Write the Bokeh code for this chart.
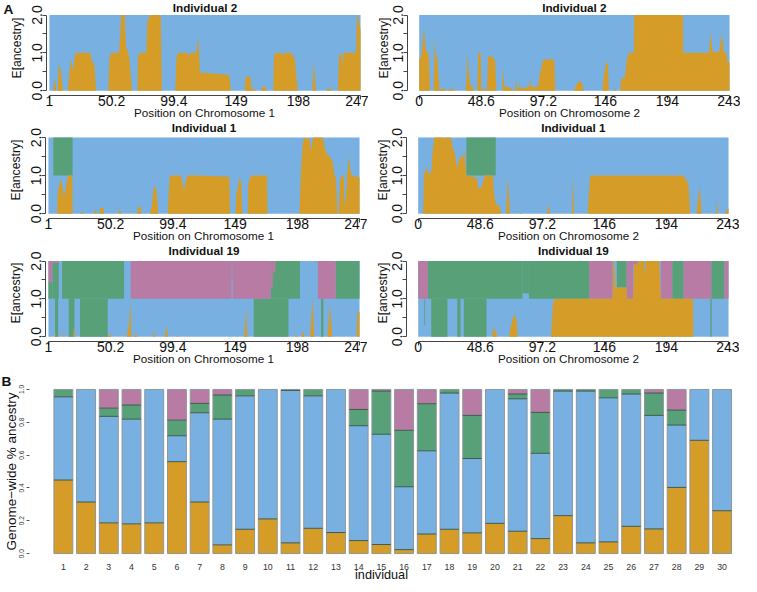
from bokeh.plotting import figure
from bokeh.layouts import column, row
from bokeh.models import (FixedTicker, PrintfTickFormatter, ColumnDataSource, LinearAxis, Title)
from bokeh.core.properties import value
from bokeh.embed import file_html
from bokeh.resources import INLINE

# ---------------- colours / constants ----------------
ORANGE = "#d59d27"
BLUE = "#78b0e2"
GREEN = "#58a077"
PINK = "#b87ba3"
FONT = "Liberation Sans"
TXT = "#111111"
PLOIDY = 2.0

# ---------------- data ----------------
chr1_ticks = [1, 50.2, 99.4, 148.6, 197.8, 247]
chr1_tick_labels = ["1", "50.2", "99.4", "149", "198", "247"]
chr2_ticks = [0, 48.6, 97.2, 145.8, 194.4, 243]
chr2_tick_labels = ["0", "48.6", "97.2", "146", "194", "243"]

# (position, E[orange ancestry]) breakpoints
ind2_chr1_orange = [(1, 0), (4, 0), (5.4, 0.33), (6.5, 0), (7.5, 0), (8.3, 0.7), (10, 0.55), (11.8, 0),
    (15.5, 0), (16.5, 0.4), (18, 0.85), (19.5, 0.5), (21, 0.9), (22, 1.0), (33, 1.0), (35, 0.75),
    (36.5, 0.7), (38, 0), (47.5, 0), (48.5, 0.9), (50.5, 1.0), (56, 1.0), (57, 1.5), (57.7, 2.0),
    (60.5, 2.0), (61.5, 1.2), (64, 0.9), (66.4, 0), (70.5, 0), (71, 0.9), (72.5, 1.0), (77.5, 1.0),
    (78.5, 1.85), (81, 2.0), (89, 2.0), (90, 0), (100.5, 0), (101.5, 0.9), (103, 1.0), (110, 1.0),
    (111, 0.93), (113, 1.0), (117, 1.0), (118.7, 1.4), (120, 0.48), (143, 0.42), (144.5, 0),
    (155.5, 0), (156, 0.35), (160, 0.38), (160.7, 0.05), (164, 0.03), (165, 0), (168.5, 0),
    (169, 0.1), (172, 0.1), (172.8, 0), (178, 0), (178.5, 0.9), (180, 1.0), (184, 1.0),
    (185.7, 0.93), (187, 1.0), (192, 1.0), (195, 0.85), (197.3, 0), (208.9, 0), (210, 0.75),
    (211, 0.3), (212, 0), (220, 0), (221, 0.05), (224, 0.05), (225, 0), (229, 0), (230, 0.95),
    (231.5, 1.0), (232.6, 0.7), (233.5, 1.0), (243.5, 1.0), (244.2, 2.0), (245.5, 1.9), (247, 1.6)]

ind2_chr2_orange = [(0, 0.85), (1.5, 0.9), (2.5, 1.2), (3.8, 1.65), (5, 1.1), (7.5, 0.95), (8.4, 0),
    (11.2, 0), (12.2, 1.4), (13, 0.95), (14, 0.9), (15.8, 0), (17, 0.05), (20, 0.05), (21, 0),
    (26, 0.05), (28.6, 0), (36.5, 0), (38, 1.0), (39, 0.4), (40.3, 0.1), (42, 0.1), (43, 0),
    (45.5, 0), (46.2, 1.0), (48.2, 1.0), (48.6, 0.05), (53, 0.02), (54, 0.92), (57, 0.9),
    (59.5, 0.8), (60.5, 0), (65, 0), (65.8, 0.6), (66.8, 0.1), (69, 0.1), (72.5, 0.05), (75, 0),
    (76, 0.3), (77, 0), (79, 0.15), (80, 0.05), (86, 0.1), (86.7, 0.3), (87.5, 0.1), (93, 0.1),
    (94.3, 0.4), (96.5, 0.75), (98, 0.85), (100, 0.8), (102, 0.85), (105.8, 0.8), (106.6, 0),
    (121, 0), (123, 0.15), (125, 0.25), (127.5, 0.2), (128.8, 0), (143.3, 0), (145, 0.5),
    (146.5, 0.75), (147.9, 0.7), (148.5, 0), (152, 0), (153, 0.05), (155, 0), (157.5, 0),
    (158, 0.3), (161, 0.35), (162.5, 0.8), (164, 1.0), (168, 1.0), (168.3, 2.0), (206.5, 2.0),
    (206.7, 1.0), (226.9, 1.0), (228.2, 1.55), (229.5, 1.05), (234.6, 1.0), (237.1, 1.5),
    (238.4, 1.0), (240.9, 1.0), (241.2, 0.75), (243, 0.75)]

ind1_chr1_orange = [(1, 0), (7.8, 0), (8.5, 0.6), (10.5, 0.85), (11.3, 0.9), (13.1, 0.45), (14.4, 0.6),
    (15.7, 0.9), (17, 1.0), (19.9, 1.0), (20.1, 0), (26, 0), (26.5, 0.02), (28.6, 0.02), (29, 0),
    (37.3, 0), (37.8, 0.1), (38.9, 0.1), (39.2, 0), (41.2, 0), (42, 0.15), (44.5, 0.15), (45, 0),
    (56.5, 0), (57.2, 0.15), (58.7, 0), (71, 0), (71.8, 0.18), (74, 0.18), (74.5, 0), (81.2, 0),
    (82.7, 0.2), (84.5, 0.75), (86.5, 0.6), (87.8, 0), (95.3, 0), (96.8, 0.95), (98.1, 1.0),
    (105.8, 1.0), (107, 0.8), (108.4, 0.6), (109.5, 0.85), (111, 1.0), (120, 1.0), (144, 0.97),
    (144.5, 0), (148.9, 0), (149.6, 0.5), (152.2, 0.97), (153.5, 0.8), (154.3, 0), (158.5, 0),
    (159, 0.8), (161.2, 1.0), (173.8, 1.0), (174.2, 0), (199.5, 0), (200.5, 1.0), (202, 1.8),
    (203, 2.0), (207.6, 1.95), (208.9, 1.65), (210.2, 2.0), (217.9, 2.0), (220.5, 1.6),
    (223.1, 1.5), (225.6, 1.4), (227, 1.05), (228.2, 0.95), (229.2, 0.3), (229.7, 0), (230.5, 0),
    (231.5, 0.9), (233.4, 1.0), (234.6, 1.0), (235.4, 0.25), (236.2, 0.3), (237.2, 1.0),
    (238.5, 1.5), (240, 1.1), (241.1, 1.0), (247, 0.95)]
# (start, end, lower, upper)
ind1_chr1_green = [(4.9, 20.1, 1.0, 2.0)]

ind1_chr2_orange = [(0, 0), (3.8, 0), (4.6, 1.05), (7.1, 1.2), (8.9, 1.0), (10.2, 1.1), (11.5, 1.7),
    (12.7, 2.0), (20, 2.0), (20.4, 1.95), (21, 2.0), (25.5, 2.0), (26.8, 1.75), (28.6, 1.6),
    (30.6, 1.2), (32.6, 1.5), (34.4, 1.45), (36.2, 1.65), (37.0, 1.3), (37.6, 1.0), (45.9, 0.95),
    (47.2, 0.65), (49.7, 0.7), (51, 0.9), (52.3, 1.0), (58.6, 1.0), (59.2, 0.6), (60.7, 0.25),
    (63.7, 0.2), (65, 0), (68.8, 0), (70.1, 0.95), (71.9, 0), (79, 0), (80, 0.03), (81.6, 0),
    (100.7, 0), (102, 0.25), (103.3, 0), (120.3, 0), (120.9, 1.0), (121.9, 0), (132.6, 0),
    (134.6, 1.0), (207.8, 1.0), (210.4, 0.85), (211.6, 0.8), (212.9, 0), (218, 0), (218.5, 0.25),
    (220.6, 0.7), (221.8, 0), (233.3, 0), (233.8, 0.4), (234.6, 0), (239.7, 0), (243, 0.15)]
ind1_chr2_green = [(37.7, 60.7, 1.0, 2.0)]

ind19_chr1_orange = [(1, 0), (5.8, 0), (6.2, 0.1), (6.8, 0), (12.8, 0), (13.1, 0.15), (13.6, 0),
    (20.5, 0), (21.2, 0.3), (22, 0), (47.9, 0), (48.5, 0.05), (50.5, 0.05), (51, 0), (63, 0),
    (64.6, 0.3), (65.9, 0.95), (66.5, 0), (68.5, 0), (69, 0.05), (71, 0.05), (71.5, 0), (83.5, 0),
    (84.2, 0.15), (85.2, 0), (93, 0), (94.3, 0.3), (95.5, 0), (102, 0), (102.5, 0.03), (104.6, 0),
    (155.8, 0), (157.4, 0.75), (158.2, 0), (196, 0), (196.5, 0.05), (198.6, 0), (201, 0),
    (202.3, 0.15), (203.7, 0), (208, 0), (209.7, 1.0), (211.2, 0), (221.6, 0), (223.6, 0.85),
    (225.4, 0), (244.5, 0), (245.5, 0.65), (247, 0.65)]
ind19_chr1_green = [(1, 4.1, 1.0, 1.45), (4.1, 9.2, 1.0, 1.95), (6.2, 8.7, 0.0, 1.0),
    (11.8, 60.8, 1.0, 2.0), (17.0, 21.6, 0.0, 1.0), (26.0, 47.9, 0.0, 1.0), (163.3, 190.8, 0.0, 1.0),
    (176.7, 199.9, 1.0, 2.0), (216.6, 218.4, 0.0, 1.0), (228.2, 247, 1.0, 2.0)]
ind19_chr1_pink = [(1, 4.1, 1.45, 2.0), (4.1, 9.2, 1.95, 2.0), (66.0, 145.8, 1.0, 2.0),
    (145.8, 146.6, 1.5, 2.0), (146.6, 176.7, 1.0, 2.0), (176.7, 178.5, 1.3, 2.0),
    (178.5, 180.5, 1.7, 2.0), (214.0, 228.2, 1.0, 2.0)]

ind19_chr2_orange = [(0, 0), (58, 0), (58.6, 0.25), (61.2, 0.1), (62, 0), (71, 0), (73, 0.35),
    (75.2, 0.6), (77, 0.45), (77.8, 0), (104, 0), (105.5, 0.9), (107.1, 1.0), (152.2, 1.0),
    (152.6, 1.95), (153.5, 2.0), (154.5, 1.3), (163.2, 1.3), (163.4, 1.0), (168.3, 1.0),
    (169, 1.9), (172.1, 1.95), (173.4, 2.0), (177, 2.0), (177.7, 1.6), (178.3, 2.0), (188.7, 2.0),
    (190, 1.0), (215, 1.0), (215.4, 0), (243, 0)]
ind19_chr2_green = [(4.8, 5.4, 0.3, 1.0), (7.6, 81.6, 1.0, 2.0), (81.6, 86.7, 1.15, 2.0),
    (86.7, 133.9, 1.0, 2.0), (10.2, 22.9, 0.0, 1.0), (30.6, 33.1, 0.0, 1.0), (35.7, 53.5, 0.0, 1.0),
    (155.5, 163.2, 1.3, 2.0), (198.9, 207.8, 1.0, 2.0), (228.8, 229.8, 0.0, 1.0),
    (229.5, 239.7, 1.0, 2.0)]
ind19_chr2_pink = [(0, 7.6, 1.0, 2.0), (133.9, 152.2, 1.0, 2.0), (163.2, 168.3, 1.0, 2.0),
    (168.3, 172.1, 1.9, 2.0), (190, 198.9, 1.0, 2.0), (207.8, 229.5, 1.0, 2.0), (239.7, 243, 1.0, 2.0)]

# Panel B: genome-wide ancestry proportions per individual
individual_ids = list(range(1, 31))
gw_orange = [0.448, 0.314, 0.187, 0.181, 0.187, 0.560, 0.314, 0.053, 0.148, 0.211,
             0.065, 0.154, 0.128, 0.079, 0.055, 0.024, 0.119, 0.148, 0.126, 0.184,
             0.136, 0.091, 0.231, 0.065, 0.071, 0.166, 0.150, 0.403, 0.690, 0.261]
gw_green = [0.045, 0.0, 0.050, 0.086, 0.0, 0.095, 0.057, 0.147, 0.039, 0.0,
            0.006, 0.039, 0.0, 0.099, 0.263, 0.344, 0.287, 0.022, 0.263, 0.0,
            0.029, 0.249, 0.010, 0.010, 0.051, 0.028, 0.136, 0.091, 0.0, 0.0]
gw_pink = [0.0, 0.0, 0.114, 0.095, 0.0, 0.187, 0.085, 0.034, 0.0, 0.0,
           0.0, 0.0, 0.0, 0.122, 0.010, 0.249, 0.087, 0.0, 0.158, 0.0,
           0.028, 0.140, 0.0, 0.0, 0.0, 0.0, 0.022, 0.126, 0.0, 0.0]
gw_blue = [round(1.0 - o - g - k, 3) for o, g, k in zip(gw_orange, gw_green, gw_pink)]

# ---------------- layout helpers (reference px -> canvas px) ----------------
KX = 739.0 / 757.0
KY = 574.0 / 592.0


def cx(v):
    return int(round(v * KX))


def cy(v):
    return int(round(v * KY))


def style_common(p):
    p.xgrid.visible = False
    p.ygrid.visible = False
    p.background_fill_color = "white"
    p.border_fill_color = "white"
    p.outline_line_color = None


def chrom_panel(title, xlabel, ticks, tick_labels, orange, green_blocks, pink_blocks,
                fig_x, frame_x, data_x, row_y, frame_top, data_top, data_bottom, frame_bottom,
                title_y, ylab_standoff, letter=None):
    xs = [q for q, _ in orange]
    ys = [v for _, v in orange]
    x_lo, x_hi = xs[0], xs[-1]
    span = x_hi - x_lo
    dpx = data_x[1] - data_x[0]
    x_start = x_lo - (data_x[0] - frame_x[0]) / dpx * span
    x_end = x_hi + (frame_x[1] - data_x[1]) / dpx * span
    ppu = (data_bottom - data_top) / PLOIDY          # ref px per ancestry unit
    y_start = -(frame_bottom - data_bottom) / ppu
    y_end = PLOIDY + (data_top - frame_top) / ppu

    fw = cx(frame_x[1]) - cx(frame_x[0])
    fh = cy(frame_bottom) - cy(frame_top)
    p = figure(frame_width=fw, frame_height=fh,
               min_border_left=cx(frame_x[0]) - cx(fig_x[0]),
               min_border_right=cx(fig_x[1]) - cx(frame_x[1]),
               min_border_top=cy(frame_top) - cy(row_y[0]),
               min_border_bottom=cy(row_y[1]) - cy(frame_bottom),
               x_range=(x_start, x_end), y_range=(y_start, y_end),
               output_backend="svg", toolbar_location=None)
    style_common(p)

    # blue background = whole chromosome, both haplotypes
    p.quad(left=[x_lo], right=[x_hi], bottom=[0], top=[PLOIDY], fill_color=BLUE, line_color=None)
    if green_blocks:
        p.quad(left=[b[0] for b in green_blocks], right=[b[1] for b in green_blocks],
               bottom=[b[2] for b in green_blocks], top=[b[3] for b in green_blocks],
               fill_color=GREEN, line_color=None)
    if pink_blocks:
        p.quad(left=[b[0] for b in pink_blocks], right=[b[1] for b in pink_blocks],
               bottom=[b[2] for b in pink_blocks], top=[b[3] for b in pink_blocks],
               fill_color=PINK, line_color=None)
    p.varea(x=xs, y1=[0] * len(xs), y2=ys, fill_color=ORANGE)

    # panel title (inside the frame, above the data area)
    p.text(x=[(x_lo + x_hi) / 2], y=[PLOIDY + (data_top - title_y) / ppu], text=[title],
           text_align="center", text_baseline="middle", text_font=value(FONT),
           text_font_size=value("11.7px"), text_font_style="bold", text_color=TXT)

    ax = p.xaxis[0]
    ax.ticker = FixedTicker(ticks=ticks)
    ax.major_label_overrides = dict(zip(ticks, tick_labels))
    ax.bounds = (x_lo, x_hi)
    ax.axis_label = xlabel
    ax.axis_line_color = "#444444"
    ax.major_tick_line_color = "#444444"
    ax.major_tick_out = 4
    ax.major_tick_in = 0
    ax.minor_tick_out = 0
    ax.minor_tick_in = 0
    ax.major_label_standoff = -4
    ax.axis_label_standoff = -3
    ax.major_label_text_font = FONT
    ax.major_label_text_font_size = "14px"
    ax.major_label_text_color = TXT
    ax.axis_label_text_font = FONT
    ax.axis_label_text_font_size = "11.7px"
    ax.axis_label_text_font_style = "normal"
    ax.axis_label_text_color = TXT

    ay = p.yaxis[0]
    ay.ticker = FixedTicker(ticks=[0, 0.5, 1.0, 1.5, 2.0])
    ay.formatter = PrintfTickFormatter(format="%.1f")
    ay.major_label_overrides = {0.5: "", 1.5: ""}
    ay.bounds = (0, PLOIDY)
    ay.major_label_orientation = "vertical"
    ay.axis_label = "E[ancestry]"
    ay.axis_line_color = "#444444"
    ay.major_tick_line_color = "#444444"
    ay.major_tick_out = 4
    ay.major_tick_in = 0
    ay.minor_tick_out = 0
    ay.minor_tick_in = 0
    ay.major_label_standoff = 0
    ay.axis_label_standoff = ylab_standoff
    ay.major_label_text_font = FONT
    ay.major_label_text_font_size = "14px"
    ay.major_label_text_color = TXT
    ay.axis_label_text_font = FONT
    ay.axis_label_text_font_size = "12.2px"
    ay.axis_label_text_font_style = "normal"
    ay.axis_label_text_color = TXT

    if letter:
        # figure-part letter, shown as the single label of an outer (line-less) axis
        y_letter = PLOIDY + (data_top - letter[1]) / ppu
        la = LinearAxis(ticker=FixedTicker(ticks=[y_letter]),
                        major_label_overrides={y_letter: letter[0]},
                        axis_line_color=None, major_tick_line_color=None,
                        minor_tick_line_color=None, major_tick_out=0, major_tick_in=0,
                        major_label_orientation="horizontal", major_label_standoff=-7,
                        major_label_text_font=FONT, major_label_text_font_size="13.7px",
                        major_label_text_font_style="bold", major_label_text_color=TXT)
        p.add_layout(la, "left")
    return p


LEFT = dict(fig_x=(0, 376), frame_x=(46, 370), data_x=(49, 368), ylab_standoff=6)
RIGHT = dict(fig_x=(376, 757), frame_x=(416, 748), data_x=(428, 746), ylab_standoff=0)
ROWS = [dict(row_y=(0, 125), frame_top=0, data_top=15, data_bottom=93, frame_bottom=98, title_y=7),
        dict(row_y=(125, 251), frame_top=125, data_top=141.5, data_bottom=219.5,
             frame_bottom=224.5, title_y=131.5),
        dict(row_y=(251, 383), frame_top=251, data_top=268, data_bottom=345.5,
             frame_bottom=350.5, title_y=257.5)]

panels = [
    ("Individual 2", ind2_chr1_orange, None, None, ind2_chr2_orange, None, None),
    ("Individual 1", ind1_chr1_orange, ind1_chr1_green, None, ind1_chr2_orange, ind1_chr2_green, None),
    ("Individual 19", ind19_chr1_orange, ind19_chr1_green, ind19_chr1_pink,
     ind19_chr2_orange, ind19_chr2_green, ind19_chr2_pink),
]

rows = []
for i, (ttl, o1, g1, k1, o2, g2, k2) in enumerate(panels):
    pl = chrom_panel(ttl, "Position on Chromosome 1", chr1_ticks, chr1_tick_labels, o1, g1, k1,
                     letter=("A", 9) if i == 0 else None, **LEFT, **ROWS[i])
    pr = chrom_panel(ttl, "Position on Chromosome 2", chr2_ticks, chr2_tick_labels, o2, g2, k2,
                     **RIGHT, **ROWS[i])
    rows.append(row(pl, pr))

# ---------------- panel B ----------------
BAR_W = 1 / 1.2
b_fig_x = (0, 757)
b_frame_x = (29, 750)
b_row_y = (383, 592)
b_frame_top, b_frame_bottom = 398, 571
b_top_px, b_zero_px = 400, 569
bar1_left_px, bar30_right_px = 54, 748

first_left = individual_ids[0] - BAR_W / 2
last_right = individual_ids[-1] + BAR_W / 2
ppu_b = (bar30_right_px - bar1_left_px) / (last_right - first_left)
bx_start = first_left - (bar1_left_px - b_frame_x[0]) / ppu_b
bx_end = last_right + (b_frame_x[1] - bar30_right_px) / ppu_b
ppy = b_zero_px - b_top_px
by_start = -(b_frame_bottom - b_zero_px) / ppy
by_end = 1 + (b_top_px - b_frame_top) / ppy

b_left_border = cx(b_frame_x[0]) - cx(b_fig_x[0])
pB = figure(frame_width=cx(b_frame_x[1]) - cx(b_frame_x[0]),
            frame_height=cy(b_frame_bottom) - cy(b_frame_top),
            min_border_left=b_left_border,
            min_border_right=cx(b_fig_x[1]) - cx(b_frame_x[1]),
            min_border_top=cy(b_frame_top) - cy(b_row_y[0]),
            min_border_bottom=cy(b_row_y[1]) - cy(b_frame_bottom),
            x_range=(bx_start, bx_end), y_range=(by_start, by_end),
            output_backend="svg", toolbar_location=None,
            title=Title(text="B", align="left", offset=-b_left_border, standoff=-2,
                        text_font=FONT, text_font_size="13.7px", text_font_style="bold",
                        text_color=TXT))
style_common(pB)

src = ColumnDataSource(dict(ind=individual_ids, orange=gw_orange, blue=gw_blue,
                            green=gw_green, pink=gw_pink))
pB.vbar_stack(["orange", "blue", "green", "pink"], x="ind", width=BAR_W, source=src,
              fill_color=[ORANGE, BLUE, GREEN, PINK], line_color=None)
totals = [o + b + g + k for o, b, g, k in zip(gw_orange, gw_blue, gw_green, gw_pink)]
pB.vbar(x=individual_ids, width=BAR_W, bottom=0, top=totals, fill_color=None,
        line_color="#8e979c", line_width=1)
# dark separation lines between ancestry segments
sx0, sx1, sy = [], [], []
for i, o, b, g, k in zip(individual_ids, gw_orange, gw_blue, gw_green, gw_pink):
    acc = 0.0
    for v in (o, b, g):
        acc += v
        if v > 0 and acc < 0.999:
            sx0.append(i - BAR_W / 2)
            sx1.append(i + BAR_W / 2)
            sy.append(acc)
pB.segment(x0=sx0, x1=sx1, y0=sy, y1=sy, line_color="#3e5a4c", line_width=1)

bx = pB.xaxis[0]
bx.ticker = FixedTicker(ticks=individual_ids)
bx.axis_line_color = None
bx.major_tick_line_color = None
bx.minor_tick_line_color = None
bx.major_label_standoff = 2
bx.major_label_text_font = FONT
bx.major_label_text_font_size = "8.8px"
bx.major_label_text_color = "#333333"
bx.axis_label = "individual"
bx.axis_label_standoff = -5
bx.axis_label_text_font = FONT
bx.axis_label_text_font_size = "12.7px"
bx.axis_label_text_font_style = "normal"
bx.axis_label_text_color = TXT

by = pB.yaxis[0]
by.ticker = FixedTicker(ticks=[0, 0.2, 0.4, 0.6, 0.8, 1.0])
by.formatter = PrintfTickFormatter(format="%.1f")
by.axis_line_color = None
by.major_tick_line_color = "#555555"
by.major_tick_out = 3
by.major_tick_in = 0
by.minor_tick_out = 0
by.minor_tick_in = 0
by.major_label_orientation = "vertical"
by.major_label_standoff = 2
by.major_label_text_font = FONT
by.major_label_text_font_size = "6.6px"
by.major_label_text_color = "#333333"
by.axis_label = "Genome\u2212wide % ancestry"
by.axis_label_standoff = -2
by.axis_label_text_font = FONT
by.axis_label_text_font_size = "13.5px"
by.axis_label_text_font_style = "normal"
by.axis_label_text_color = TXT

layout = column(*rows, pB)
open("out.html", "w").write(file_html(layout, INLINE))
